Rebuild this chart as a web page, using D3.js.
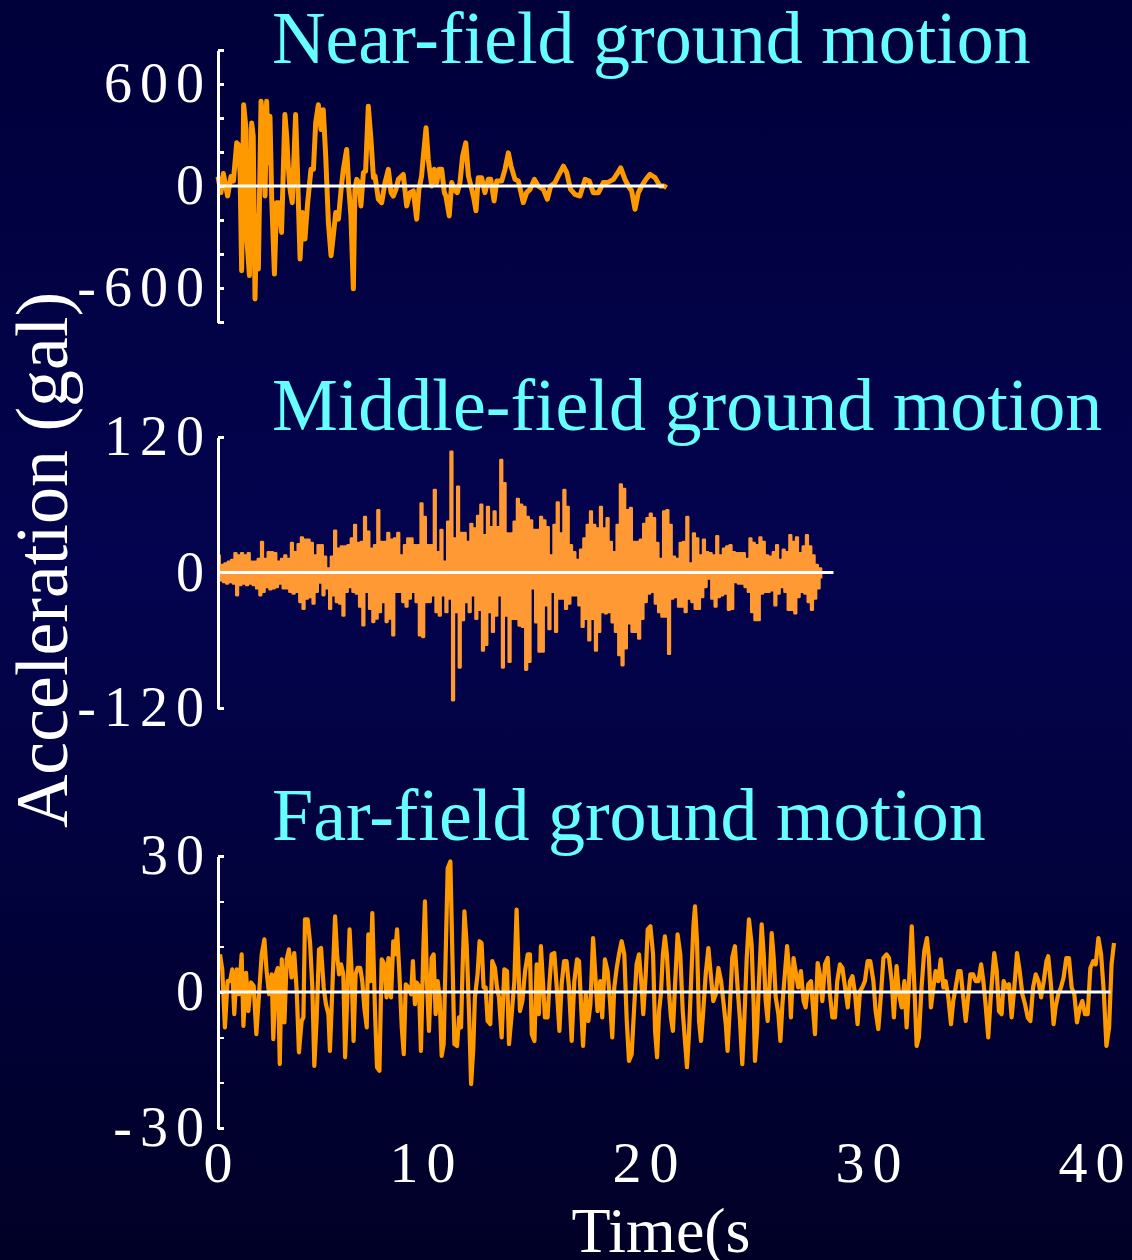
<!DOCTYPE html>
<html lang="en">
<head>
<meta charset="utf-8">
<title>Ground motion records</title>
<script src="https://cdn.jsdelivr.net/npm/d3@7"></script>
<style>
  body { margin: 0; overflow: hidden; background: #000030; }
  svg { display: block; }
  .axis path, .axis line { stroke: #ffffff; stroke-width: 2.5px; fill: none; shape-rendering: crispEdges; }
  .axis text { fill: #ffffff; }
  .zero { stroke: #ffffff; stroke-width: 3.2px; }
  .trace { fill: none; stroke-linejoin: round; }
</style>
</head>
<body>
<script>
// ---------------- data ----------------
// Near-field record: time (s) / acceleration (gal)
var nearT = [0.00,0.13,0.24,0.43,0.58,0.69,0.84,0.91,0.99,1.06,1.15,1.26,1.30,1.41,1.51,1.58,1.66,1.73,1.81,1.93,
  2.03,2.11,2.18,2.26,2.33,2.41,2.53,2.63,2.74,2.85,3.00,3.08,3.15,3.23,3.33,3.48,3.57,3.68,3.78,3.90,
  4.02,4.17,4.28,4.38,4.50,4.62,4.72,4.83,4.95,5.07,5.17,5.28,5.40,5.52,5.62,5.77,5.87,5.96,6.07,6.14,
  6.22,6.32,6.41,6.52,6.62,6.74,6.86,6.97,7.04,7.19,7.34,7.49,7.64,7.76,7.86,7.98,8.09,8.31,8.46,8.61,
  8.76,8.91,9.01,9.13,9.21,9.33,9.43,9.58,9.70,9.81,9.91,10.03,10.15,
  10.22,10.37,10.48,10.58,10.73,10.85,10.97,11.11,11.23,11.38,11.48,11.57,11.67,11.82,11.97,12.12,12.23,12.38,12.50,12.72,
  12.87,13.02,13.14,13.32,13.47,13.69,13.84,13.99,14.19,14.36,14.59,14.77,14.92,15.11,15.26,15.49,15.64,15.81,16.01,16.23,
  16.46,16.65,16.83,17.06,17.28,17.46,17.73,17.88,18.06,18.25,18.40,18.55,18.70,18.85,19.00,19.19,19.37,19.60,19.82,20.00,20.12];
var nearA = [55,-39,74,-59,55,29,254,244,78,-498,478,332,-322,-527,371,293,-664,-176,-488,498,
  371,-59,498,137,410,-78,-518,-98,-98,-273,420,293,117,-20,-98,420,59,-430,-156,-312,
  -98,98,98,371,478,332,449,176,-215,-410,-293,-156,-195,-20,98,215,-20,-176,-605,-20,
  39,20,-117,78,88,469,273,49,59,-78,-98,20,98,-39,-59,-20,39,68,-117,-39,
  -29,-195,-20,59,176,342,156,0,98,20,98,98,-39,
  -59,-176,20,-20,-39,20,176,254,59,-20,-78,-146,49,49,-39,39,39,-88,29,29,
  98,195,117,39,29,-98,-39,-20,39,0,-20,-78,0,20,59,117,78,-20,-49,-59,
  39,29,-39,-39,20,20,39,68,107,39,0,-29,-137,-39,0,39,68,49,0,0,-10];

// Middle-field record: dense trace, read as positive / negative peak per sample step
var midDt = 0.149;
var midUp = [15,6.5,8,9.5,11,17,15,17,15,17,9.5,9.5,12,27,12,18,18,17,9.5,12,
  15,12,26,18,25,31,29,29,26,15,24,24,14,3.5,14,37,21,23,23,24,30,42,26,27,49,36,21,24,55,27,
  27,35,29,30,35,15,24,30,30,24,24,61,49,
  24,24,73,18,37.5,9.5,45,107,30,76,35,35,27,43,39,50,60,33,58,40,54,40,99.5,79,34.5,34.5,45,65,60,58,
  49,46,37.5,37.5,49,46,40,15,42,62,34.5,73,58,24,18,11,20,30,42,54,42,39,58,39,48,27,18,42,78,74,55,57,
  27,27,29,43,48,52,48,26,12,54,55,42,14,12,26,27,49,8,34.5,30,15,29,18,17,15,32,15,21,23,24,
  18,17,17,17,12,30,26,24,31,27,15,14,18,24,11,20,18,33,27,31,17,23,33,23,15,6.5,3.5];
var midDn = [-6.8,-8.3,-9.7,-8.3,-9.7,-20,-11,-9.7,-11,-9.7,-11,-14,-20,-17,-12.7,-14.8,-14,-12.7,-9.7,-14,
  -14,-17,-18.6,-17,-26,-32,-23,-21.6,-27.5,-17,-8.9,-20,-14,-32,-20,-26,-27.5,-38,-17,-12.7,
  -17,-18.6,-30,-46.7,-17,-32,-43.7,-40.8,-35,-26,-43.7,-40.8,-55.5,-17,-17,-26,-30,-23,-17,-26,-55.5,-57,-26,
  -26,-20,-35,-38,-20,-35,-23,-113,-35,-84,-42,-26,-35,-20,-41,-33,-69,-64,-35,-52.5,-38,-20,-84,-38,-79,-41,
  -41,-47,-48,-86,-79,-14,-44,-70,-70,-29,-50,-17,-52.5,-23,-23,-32,-27.5,-20,-20,-29,-48,-41,-60,-41,-69,-52.5,
  -35,-36,-35,-44,-52.5,-73,-82,-67,-45,-52.5,
  -52.5,-58.5,-41,-26,-18.6,-17,-27.5,-35,-39,-39,-72,-23,-21.6,-30,-30,-35,-23,-26,-32,-32,
  -21.6,-12.7,-5.3,-23,-30,-21.6,-20,-18.6,-33,-32,-8.3,-9.7,-9.7,-12.7,-17,-35,-42,-42,-18.6,-17,
  -17,-15.6,-29,-18.6,-12.7,-17,-33,-33,-36,-21.6,-17,-18.6,-26,-33,-23,-14,-5.3];

// Far-field record: time (s) / acceleration (gal)
var farT = [0.09,0.19,0.31,0.43,0.54,0.64,0.73,0.84,0.94,1.06,1.14,1.26,1.36,1.48,1.60,1.72,1.84,1.96,2.08,2.18,
  2.29,2.41,2.48,2.59,2.68,2.77,2.86,2.98,3.08,3.18,3.30,3.42,3.53,3.63,3.75,3.83,3.90,4.02,4.13,4.23,
  4.32,4.42,4.53,4.62,4.74,4.84,4.95,5.02,5.13,5.25,5.34,5.43,5.52,5.62,5.70,5.82,5.90,5.99,6.08,6.17,
  6.26,6.38,6.47,6.56,6.67,6.74,6.83,6.92,7.04,7.13,7.24,7.34,7.46,7.56,7.64,7.76,7.86,7.94,8.03,8.13,
  8.24,8.33,8.42,8.54,8.66,8.74,8.83,8.91,9.01,9.10,9.21,9.28,9.37,9.46,9.58,9.67,9.76,9.85,9.94,10.03,
  10.12,10.21,10.30,10.42,10.51,10.60,10.72,10.81,10.90,10.96,11.05,11.15,11.26,11.35,11.45,11.52,11.64,11.73,11.82,11.91,
  12.00,12.09,12.21,12.30,12.42,12.51,12.60,12.72,12.84,12.96,13.05,13.17,13.29,
  13.39,13.54,13.65,13.77,13.89,13.99,14.07,14.19,14.29,14.39,14.48,14.57,14.66,14.78,14.87,14.96,15.08,15.19,15.31,15.41,
  15.52,15.63,15.74,15.86,15.98,16.10,16.19,16.28,16.37,16.49,16.61,16.70,16.82,16.91,17.02,17.14,17.23,17.35,17.47,17.58,
  17.68,17.77,17.88,17.98,18.10,18.22,18.33,18.43,18.55,18.67,18.77,18.88,19.00,19.07,19.18,19.27,19.39,19.51,19.60,19.69,
  19.78,19.86,19.95,20.04,20.13,20.22,20.31,20.40,20.49,20.61,20.73,20.84,20.94,21.03,21.12,21.24,21.32,21.39,21.48,21.57,
  21.66,21.76,21.87,21.99,22.11,22.21,22.32,22.44,22.56,22.66,22.77,22.85,22.96,23.06,23.18,23.30,23.41,23.51,23.60,23.71,
  23.81,23.93,24.02,24.08,24.17,24.26,24.38,24.47,24.56,24.65,24.74,24.83,24.92,25.01,25.13,25.22,25.31,25.43,25.52,25.61,
  25.69,25.81,25.90,26.02,26.14,26.26,26.35,26.47,26.59,26.68,26.77,26.89,
  26.99,27.10,27.22,27.34,27.44,27.55,27.67,27.77,27.89,28.00,28.12,28.24,28.34,28.45,28.57,28.68,28.79,28.89,29.01,29.13,
  29.25,29.39,29.49,29.61,29.73,29.84,29.98,30.09,30.21,30.31,30.43,30.54,30.66,30.78,30.88,30.99,31.11,31.23,31.33,31.43,
  31.55,31.67,31.79,31.88,31.97,32.08,32.18,32.30,32.41,32.53,32.63,32.75,32.87,32.97,33.08,33.20,33.30,33.42,33.53,33.65,
  33.74,33.86,33.98,34.10,34.22,34.32,34.42,34.54,34.66,34.81,34.92,35.02,35.14,35.23,35.35,35.47,35.59,35.71,35.83,35.95,
  36.07,36.19,36.31,36.43,36.55,36.67,36.79,36.91,37.03,37.15,37.23,37.35,37.47,37.56,37.68,37.80,37.92,38.04,38.16,38.28,
  38.40,38.52,38.65,38.76,38.88,39.00,39.12,39.25,39.36,39.48,39.60,39.72,39.84,39.96,40.07,40.18];
var farA = [8.3,5.0,-7.8,2.4,2.4,5.0,-4.9,5.0,-0.5,8.3,-7.5,4.2,-4.2,2.1,1.3,-9.3,-0.5,8.3,11.6,4.6,
  -0.5,3.9,-10.4,3.9,5.3,-15.9,7.2,-6.7,7.2,9.4,3.2,8.6,0.2,-13.3,-6.4,-5.6,16.0,16.0,10.8,1.0,
  -16.3,-6.4,9.4,9.7,1.0,-2.7,-4.9,-13.0,1.0,16.7,8.3,3.9,6.1,3.9,-14.4,2.1,13.8,4.6,-10.8,3.9,
  5.3,5.3,2.4,-3.4,-7.8,12.7,2.4,17.4,-4.2,-16.6,-17.4,7.2,6.1,-1.2,7.5,-1.2,11.2,8.3,13.8,4.6,
  -7.8,-13.7,1.7,1.0,-0.5,6.8,-2.7,2.1,1.3,-13.0,9.7,20.0,2.4,-8.6,7.5,8.3,-4.9,2.4,-1.2,-14.1,
  -11.5,8.3,27.3,28.8,8.3,-11.5,-11.9,-5.6,-7.8,3.9,17.8,10.5,-4.9,-20.3,-12.2,-1.2,3.9,11.2,10.8,1.0,
  1.0,-6.4,-7.1,6.8,5.3,1.0,-1.2,-10.0,5.0,4.6,-11.5,-4.9,2.4,
  18.2,-4.2,-2.0,4.6,8.3,8.3,-9.3,-10.8,6.1,-4.9,10.1,2.4,-5.6,-5.6,2.4,8.3,8.6,1.0,-8.6,1.7,
  6.8,6.8,1.0,-10.8,2.4,7.2,6.8,-2.7,-11.9,-0.5,-6.4,-2.7,11.9,4.6,-4.2,2.4,-5.6,7.2,4.6,-2.0,
  -10.0,1.0,5.3,8.3,11.2,8.3,-6.4,-15.2,-13.7,-2.7,6.1,8.3,1.0,-4.9,3.9,13.8,14.5,8.3,-8.6,-14.4,
  -4.2,-0.5,8.3,12.3,8.3,0.2,-5.6,-8.6,1.0,12.7,8.3,-4.2,-10.8,-16.6,-9.3,5.3,14.5,18.9,11.2,-6.4,
  -10.8,-4.2,3.9,9.7,3.2,-2.0,-0.5,5.3,2.4,-2.0,-7.1,-13.0,-2.7,7.5,10.1,1.0,-6.4,-15.9,-6.4,7.5,
  16.0,10.5,-2.7,-15.2,-8.6,2.4,14.9,8.3,-2.0,-6.4,2.4,13.0,7.5,-1.2,-4.9,-10.8,-2.7,4.6,10.1,4.6,
  -5.6,7.5,4.6,1.0,4.6,-2.0,-3.4,1.7,2.4,-3.4,-9.3,6.4,
  3.9,-2.0,6.1,7.5,-0.5,-5.6,-5.6,2.4,6.1,5.3,1.0,-3.4,2.4,3.5,-0.5,-7.1,0.2,1.0,2.4,6.8,
  6.8,2.4,-4.2,-8.2,-0.5,7.5,8.3,7.5,2.4,-5.6,5.7,-0.5,-3.4,2.4,-7.8,2.4,14.5,1.0,-11.9,-10.0,
  1.0,9.0,11.9,7.5,-3.4,1.0,4.6,2.4,7.2,1.0,2.4,-1.2,-7.1,-2.0,1.0,4.6,4.6,-1.2,-6.4,-0.5,
  3.9,3.9,2.4,2.4,6.1,2.4,-2.7,-10.0,-0.5,8.6,4.6,-4.2,-4.9,2.4,1.0,1.7,-5.6,1.0,8.6,4.6,
  -0.5,-2.7,-5.6,-6.4,1.0,3.9,2.4,-1.2,2.4,6.8,7.9,1.7,-7.1,-3.4,-0.5,1.0,3.2,7.5,7.5,1.0,
  -0.5,-6.7,-3.4,-2.0,-4.9,-4.9,5.3,6.8,6.1,11.9,8.3,0.2,-11.9,-7.8,6.1,10.8];

// axis ticks / labels
var timeTicks = [0, 10, 20, 30, 40];
var nearTicks = [-800,-600,-400,-200,0,200,400,600,800];
var nearLabels = [-600, 0, 600];
var midTicks = [-120, 0, 120];
var midLabels = [-120, 0, 120];
var farTicks = [-30,-20,-10,0,10,20,30];
var farLabels = [-30, 0, 30];
var titles = ["Near-field ground motion", "Middle-field ground motion", "Far-field ground motion"];

// ---------------- layout ----------------
var w = 1132, h = 1260;
var serif = "'Times New Roman', 'Liberation Serif', serif";

var svg = d3.select("body").append("svg")
  .attr("width", w)
  .attr("height", h);

var defs = svg.append("defs");
var grad = defs.append("linearGradient")
  .attr("id", "bg")
  .attr("x1", 0).attr("y1", 0).attr("x2", 0).attr("y2", 1);
grad.append("stop").attr("offset", "0%").attr("stop-color", "#00003a");
grad.append("stop").attr("offset", "45%").attr("stop-color", "#03034f");
grad.append("stop").attr("offset", "100%").attr("stop-color", "#000026");

svg.append("rect")
  .attr("width", w)
  .attr("height", h)
  .attr("fill", "url(#bg)");

// shared time scale
var x = d3.scaleLinear().domain([0, 40]).range([218, 218 + 40 * 22.3]);

var panels = [
  { title: titles[0], titleY: 63, domain: [-800, 800], range: [322, 50], ticks: nearTicks, labels: nearLabels, tEnd: 20.0 },
  { title: titles[1], titleY: 430, domain: [-120, 120], range: [708, 437], ticks: midTicks, labels: midLabels, tEnd: 27.6 },
  { title: titles[2], titleY: 840, domain: [-30, 30], range: [1128, 856], ticks: farTicks, labels: farLabels, tEnd: 40.03 }
];

panels.forEach(function(p) {
  p.y = d3.scaleLinear().domain(p.domain).range(p.range);
});

// ---------------- traces ----------------
var nearPts = d3.zip(nearT, nearA);
var farPts = d3.zip(farT, farA);
var midPts = [];
midUp.forEach(function(u, i) {
  midPts.push([i * midDt, u]);
  midPts.push([i * midDt + midDt / 2, midDn[i]]);
});

function lineFor(p, curve) {
  return d3.line()
    .x(function(d) { return x(d[0]); })
    .y(function(d) { return p.y(d[1]); })
    .curve(curve || d3.curveLinear);
}

svg.append("path")
  .attr("class", "trace")
  .attr("d", lineFor(panels[0])(nearPts))
  .attr("stroke", "#ff9900")
  .attr("stroke-width", 5);

svg.append("path")
  .attr("class", "trace")
  .attr("d", lineFor(panels[1], d3.curveStepAfter)(midPts))
  .attr("stroke", "#ff9933")
  .attr("stroke-width", 2.6);

svg.append("path")
  .attr("class", "trace")
  .attr("d", lineFor(panels[2])(farPts))
  .attr("stroke", "#ff9900")
  .attr("stroke-width", 4.2);

// ---------------- axes, zero lines, titles ----------------
panels.forEach(function(p) {
  svg.append("line")
    .attr("class", "zero")
    .attr("x1", x(0)).attr("x2", x(p.tEnd))
    .attr("y1", p.y(0)).attr("y2", p.y(0));

  var ax = svg.append("g")
    .attr("class", "axis")
    .attr("transform", "translate(" + x(0) + ",0)")
    .call(d3.axisLeft(p.y)
      .tickValues(p.ticks)
      .tickSizeInner(-6)
      .tickSizeOuter(0)
      .tickPadding(6)
      .tickFormat(function(d) { return p.labels.indexOf(d) >= 0 ? String(d) : ""; }));
  ax.attr("font-family", serif).attr("font-size", 56);
  ax.selectAll("text").attr("letter-spacing", "8px");

  svg.append("text")
    .attr("x", 272)
    .attr("y", p.titleY)
    .attr("font-family", serif)
    .attr("font-size", 74)
    .attr("fill", "#66ffff")
    .text(p.title);
});

// time axis labels (no axis line), right edge just past each tick
var gx = svg.append("g")
  .attr("class", "axis")
  .attr("transform", "translate(0,1182)")
  .call(d3.axisBottom(x).tickValues(timeTicks).tickSize(0).tickPadding(0));
gx.select(".domain").remove();
gx.attr("font-family", serif).attr("font-size", 58);
gx.selectAll("text")
  .attr("dy", 0).attr("y", 0)
  .attr("text-anchor", "end")
  .attr("dx", 22)
  .attr("letter-spacing", "8px");

// axis titles
svg.append("text")
  .attr("transform", "translate(67,560) rotate(-90)")
  .attr("text-anchor", "middle")
  .attr("font-family", serif)
  .attr("font-size", 74)
  .attr("fill", "#ffffff")
  .text("Acceleration (gal)");

svg.append("text")
  .attr("x", 661)
  .attr("y", 1252)
  .attr("text-anchor", "middle")
  .attr("font-family", serif)
  .attr("font-size", 64)
  .attr("fill", "#ffffff")
  .text("Time(s");
</script>
</body>
</html>
